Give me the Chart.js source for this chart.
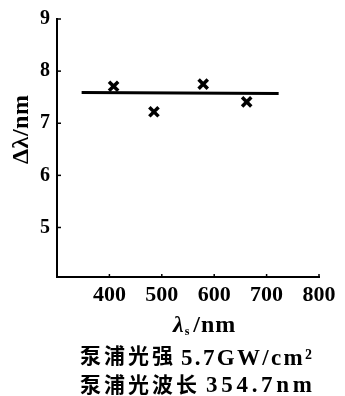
<!DOCTYPE html>
<html><head><meta charset="utf-8">
<script src="https://cdn.jsdelivr.net/npm/chart.js@4"></script>
<style>html,body{margin:0;padding:0;background:#fff}#w{width:345px;height:396px}</style>
</head><body><div id="w"><canvas id="c" width="345" height="396"></canvas></div>
<script>
const pumpWavelengths = [408, 485, 579, 662];
const deltaLambda = [7.71, 7.22, 7.75, 7.41];
const fitX = [347, 723];
const fitY = [7.59, 7.57];
const xTicks = [400, 500, 600, 700, 800];
const yTicks = [5, 6, 7, 8, 9];
const yTitle = 'Δλ/nm';
const xTitleMain = 'λ', xTitleSub = 's', xTitleRest = '/nm';
const note1 = ['泵浦光强', '5.7GW/cm²'];
const note2 = ['泵浦光波长', '354.7nm'];

const SERIF = '"Liberation Serif", "DejaVu Serif", serif';
const CJK = '"Noto Sans CJK SC", sans-serif';

function spaced(ctx, text, x, y, sp) {
  for (const ch of text) { ctx.fillText(ch, x, y); x += ctx.measureText(ch).width + sp; }
  return x - sp;
}
function fitSpaced(ctx, text, x, y, w) {
  const chars = [...text];
  const raw = chars.reduce((a, c) => a + ctx.measureText(c).width, 0);
  const sp = chars.length > 1 ? Math.max(0, (w - raw) / (chars.length - 1)) : 0;
  return spaced(ctx, text, x, y, sp);
}

const deco = {
  id: 'deco',
  afterDraw(chart) {
    const ctx = chart.ctx, xs = chart.scales.x, ys = chart.scales.y;
    ctx.save();
    ctx.strokeStyle = '#000'; ctx.lineWidth = 1.5;
    yTicks.forEach(v => { const p = ys.getPixelForValue(v); ctx.beginPath(); ctx.moveTo(xs.left, p); ctx.lineTo(xs.left + 4, p); ctx.stroke(); });
    xTicks.forEach(v => { const p = xs.getPixelForValue(v); ctx.beginPath(); ctx.moveTo(p, ys.bottom); ctx.lineTo(p, ys.bottom - 3); ctx.stroke(); });
    ctx.fillStyle = '#000';
    // y title
    ctx.save();
    ctx.translate(28, 164); ctx.rotate(-Math.PI / 2);
    ctx.font = 'bold 24px ' + SERIF; ctx.textAlign = 'left'; ctx.textBaseline = 'alphabetic';
    fitSpaced(ctx, yTitle, 0, 0, 69);
    ctx.restore();
    // x title
    ctx.textBaseline = 'alphabetic'; ctx.textAlign = 'left';
    ctx.font = 'bold italic 24px ' + SERIF;
    let x = 173;
    ctx.fillText(xTitleMain, x, 332); x += ctx.measureText(xTitleMain).width + 1;
    ctx.font = 'bold 12px ' + SERIF;
    ctx.fillText(xTitleSub, x, 335); x += ctx.measureText(xTitleSub).width + 4;
    ctx.font = 'bold 24px ' + SERIF;
    spaced(ctx, xTitleRest, x, 332, 1);
    // notes
    ctx.font = '700 21px ' + CJK;
    const e1 = spaced(ctx, note1[0], 80, 363, 3);
    const e2 = spaced(ctx, note2[0], 80, 392, 3);
    ctx.font = 'bold 23px ' + SERIF;
    fitSpaced(ctx, note1[1], e1 + 8, 365, 312 - e1 - 8);
    fitSpaced(ctx, note2[1], e2 + 9, 392, 312 - e2 - 9);
    ctx.restore();
  }
};

new Chart(document.getElementById('c'), {
  data: {
    datasets: [
      { type: 'line', data: fitX.map((v, i) => ({ x: v, y: fitY[i] })), borderColor: '#000', borderWidth: 3, pointRadius: 0, fill: false },
      { type: 'scatter', data: pumpWavelengths.map((v, i) => ({ x: v, y: deltaLambda[i] })), pointStyle: 'crossRot', pointRadius: 6.5, borderColor: '#000', backgroundColor: '#000', pointBorderWidth: 3.5 }
    ]
  },
  options: {
    responsive: false, animation: false, devicePixelRatio: 1,
    layout: { padding: { top: 18, right: 26, left: 0, bottom: 0 } },
    plugins: { legend: { display: false }, tooltip: { enabled: false } },
    scales: {
      x: {
        type: 'linear', min: 300, max: 800,
        afterBuildTicks: s => { s.ticks = xTicks.map(v => ({ value: v })); },
        afterFit: s => { s.height = 119; },
        grid: { drawOnChartArea: false, drawTicks: false },
        border: { display: true, color: '#000', width: 2 },
        ticks: { color: '#000', padding: 5, font: { family: SERIF, size: 22, weight: 'bold' } }
      },
      y: {
        type: 'linear', min: 4.05, max: 9,
        afterBuildTicks: s => { s.ticks = yTicks.map(v => ({ value: v })); },
        afterFit: s => { s.width = 57; },
        grid: { drawOnChartArea: false, drawTicks: false },
        border: { display: true, color: '#000', width: 2 },
        ticks: { color: '#000', padding: 7, font: { family: SERIF, size: 20, weight: 'bold' } }
      }
    }
  },
  plugins: [deco]
});
</script></body></html>
